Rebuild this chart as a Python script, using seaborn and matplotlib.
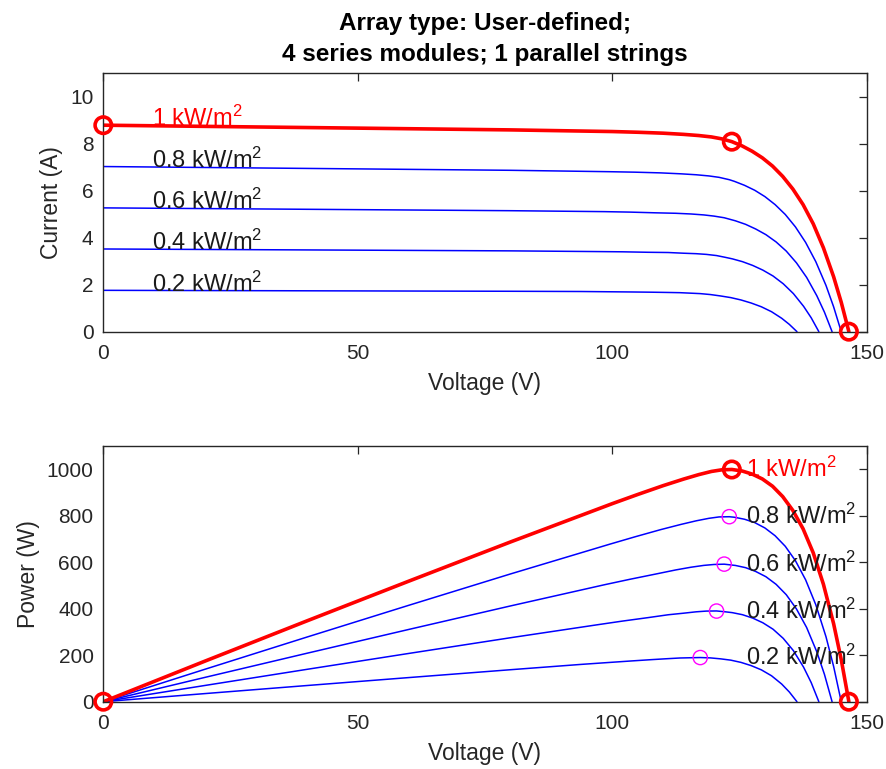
import numpy as np
import pandas as pd
import matplotlib
matplotlib.use("Agg")
import matplotlib.pyplot as plt
import seaborn as sns

# ---------------- data ----------------
irradiance_labels = ["1 kW/m$^2$", "0.8 kW/m$^2$", "0.6 kW/m$^2$", "0.4 kW/m$^2$", "0.2 kW/m$^2$"]

V_1000 = [0, 20, 40, 60, 80, 100, 105, 110, 114, 117, 119.5, 121.5, 123.5, 125.5, 127.5, 129.5, 131.5,
          133.5, 135.5, 137.5, 139.5, 141.5, 143.5, 145.0, 146.5]
I_1000 = [8.79, 8.74, 8.69, 8.64, 8.59, 8.52, 8.49, 8.45, 8.40, 8.35, 8.29, 8.21, 8.09, 7.91, 7.68, 7.40, 7.05,
          6.61, 6.07, 5.41, 4.59, 3.57, 2.34, 1.25, 0.0]

V_800 = [0, 20, 40, 60, 80, 99.5, 104.5, 109.5, 113.5, 116.5, 119, 121, 123, 124, 126, 128, 130,
         132, 134, 136, 138, 140, 142, 143.5, 145.0]
I_800 = [7.03, 6.99, 6.95, 6.91, 6.87, 6.81, 6.79, 6.76, 6.72, 6.68, 6.63, 6.57, 6.47, 6.40, 6.23, 6.02, 5.75,
         5.41, 4.99, 4.46, 3.80, 2.98, 1.97, 1.06, 0.0]

V_600 = [0, 20, 40, 60, 80, 98.5, 103.5, 108.5, 112.5, 115.5, 118, 120, 122, 124.2, 126.2, 128.2, 130.2,
         132.2, 134.2, 136.2, 138.2, 140.2, 141.7, 143.2]
I_600 = [5.27, 5.24, 5.21, 5.18, 5.15, 5.11, 5.09, 5.06, 5.04, 5.01, 4.97, 4.92, 4.85, 4.72, 4.57, 4.37, 4.13,
         3.82, 3.43, 2.93, 2.31, 1.53, 0.83, 0.0]

V_400 = [0, 20, 40, 60, 80, 97, 102, 107, 111, 114, 116.5, 118.5, 120.5, 122.1, 123.6, 125.6, 127.6,
         129.6, 131.6, 133.6, 135.6, 137.6, 139.1, 140.6]
I_400 = [3.52, 3.50, 3.48, 3.46, 3.44, 3.41, 3.40, 3.38, 3.37, 3.34, 3.32, 3.29, 3.24, 3.17, 3.10, 2.98, 2.82,
         2.62, 2.37, 2.04, 1.62, 1.08, 0.59, 0.0]

V_200 = [0, 20, 40, 60, 80, 93.8, 98.8, 103.8, 107.8, 110.8, 113.3, 115.3, 117.3, 119.3, 121.3, 123.3,
         125.3, 127.3, 129.3, 131.3, 133.3, 134.8, 136.3]
I_200 = [1.76, 1.75, 1.74, 1.73, 1.72, 1.71, 1.70, 1.69, 1.68, 1.67, 1.66, 1.64, 1.62, 1.58, 1.52, 1.45,
         1.35, 1.22, 1.06, 0.85, 0.57, 0.31, 0.0]

# maximum power points
mpp_V = [123.5, 123.0, 122.0, 120.5, 117.3]
mpp_P = [999, 796, 592, 390, 190]

x_ticks = [0, 50, 100, 150]
i_ticks = [0, 2, 4, 6, 8, 10]
p_ticks = [0, 200, 400, 600, 800, 1000]

title_text = "Array type: User-defined;\n4 series modules; 1 parallel strings"

# ---------------- build long table ----------------
curves = [(irradiance_labels[0], V_1000, I_1000), (irradiance_labels[1], V_800, I_800),
          (irradiance_labels[2], V_600, I_600), (irradiance_labels[3], V_400, I_400),
          (irradiance_labels[4], V_200, I_200)]
rows = []
for lab, vv, ii in curves:
    for v, i in zip(vv, ii):
        rows.append({"G": lab, "V": v, "I": i, "P": v * i})
df = pd.DataFrame(rows)
mpp = pd.DataFrame({"G": irradiance_labels, "V": mpp_V, "P": mpp_P})

# ---------------- style ----------------
sns.set_style("white")
plt.rcParams["font.family"] = ["Liberation Sans", "DejaVu Sans"]
plt.rcParams["mathtext.default"] = "regular"
TXT = "#262626"

fig = plt.figure(figsize=(8.86, 7.69), dpi=100)
fig.patch.set_facecolor("white")
ax1 = fig.add_axes([0.1166, 0.5687, 0.8616, 0.336])
ax2 = fig.add_axes([0.1166, 0.0875, 0.8616, 0.3325])

RED = "#ff0000"
BLUE = "#0000ff"
MAG = "#ff00ff"

for ax, ycol in ((ax1, "I"), (ax2, "P")):
    for lab in irradiance_labels[1:]:
        sub = df[df["G"] == lab]
        sns.lineplot(data=sub, x="V", y=ycol, ax=ax, color=BLUE, linewidth=1.1,
                     sort=False, estimator=None, legend=False)
    sub = df[df["G"] == irradiance_labels[0]]
    sns.lineplot(data=sub, x="V", y=ycol, ax=ax, color=RED, linewidth=2.6,
                 sort=False, estimator=None, legend=False)

# markers
red = df[df["G"] == irradiance_labels[0]]
top_V = [red["V"].iloc[0], mpp_V[0], red["V"].iloc[-1]]
top_I = [red["I"].iloc[0], mpp_P[0] / mpp_V[0], red["I"].iloc[-1]]
sns.scatterplot(x=top_V, y=top_I, ax=ax1, marker="o", s=140,
                facecolor="none", edgecolor=RED, linewidth=2.6, zorder=5, clip_on=False, legend=False)
bot_V = [red["V"].iloc[0], mpp_V[0], red["V"].iloc[-1]]
bot_P = [red["P"].iloc[0], mpp_P[0], red["P"].iloc[-1]]
sns.scatterplot(x=bot_V, y=bot_P, ax=ax2, marker="o", s=140,
                facecolor="none", edgecolor=RED, linewidth=2.6, zorder=5, clip_on=False, legend=False)
sns.scatterplot(data=mpp.iloc[1:], x="V", y="P", ax=ax2, marker="o", s=105,
                facecolor="none", edgecolor=MAG, linewidth=1.0, zorder=5, clip_on=False, legend=False)

# curve labels
for (lab, vv, ii), pv in zip(curves, mpp_P):
    col = RED if lab == irradiance_labels[0] else "#1a1a1a"
    ax1.text(9.5, ii[0] - 0.05, lab, color=col, fontsize=17, ha="left", va="baseline", zorder=6)
    ax2.text(126.3, pv, lab, color=col, fontsize=17, ha="left", va="center", zorder=6)

for ax, yt, ylim, ylab in ((ax1, i_ticks, (0, 11), "Current (A)"), (ax2, p_ticks, (0, 1100), "Power (W)")):
    ax.set_xlim(0, 150)
    ax.set_ylim(*ylim)
    ax.set_xticks(x_ticks)
    ax.set_yticks(yt)
    ax.set_xlabel("Voltage (V)", fontsize=16.5, color=TXT, labelpad=6)
    ax.set_ylabel(ylab, fontsize=16.5, color=TXT, labelpad=5)
    ax.tick_params(axis="both", which="both", direction="in", length=6, width=0.9,
                   top=True, right=True, labelsize=15, colors=TXT, pad=7)
    ax.tick_params(axis="x", pad=9)
    for sp in ax.spines.values():
        sp.set_visible(True)
        sp.set_color(TXT)
        sp.set_linewidth(1.0)

ax1.set_title(title_text, fontsize=17.5, fontweight="bold", color="black", pad=9, linespacing=1.42)

fig.savefig("out.png", dpi=100, facecolor="white")
